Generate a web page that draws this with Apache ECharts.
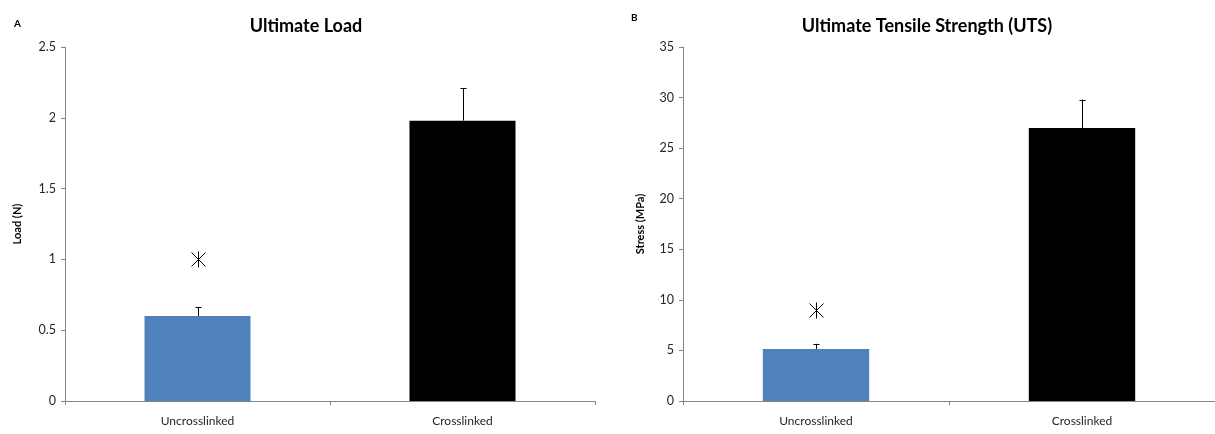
<!DOCTYPE html>
<html>
<head>
<meta charset="utf-8">
<script src="https://cdn.jsdelivr.net/npm/echarts@6/dist/echarts.min.js"></script>
<style>
  html, body { margin: 0; padding: 0; background: #fff; }
  #chart { width: 1215px; height: 434px; }
</style>
</head>
<body>
<div id="chart"></div>
<script>
// Mechanical testing results: uncrosslinked vs crosslinked samples
const categories = ['Uncrosslinked', 'Crosslinked'];
const barColors = ['#4f81bd', '#000000'];

// Panel A: ultimate load (N)
const loadMeans = [0.6, 1.98];
const loadErrors = [0.065, 0.23];
const loadSignificance = [1.0, null];
const loadTicks = { min: 0, max: 2.5, interval: 0.5 };

// Panel B: ultimate tensile strength (MPa)
const stressMeans = [5.15, 27.0];
const stressErrors = [0.5, 2.8];
const stressSignificance = [9.0, null];
const stressTicks = { min: 0, max: 35, interval: 5 };

const FONT = 'Lato, "Noto Sans", sans-serif';
const AXIS_GRAY = '#868686';
const TEXT = '#262626';

const chart = echarts.init(document.getElementById('chart'), null, { renderer: 'canvas' });

function xAxisFor(gridIndex) {
  return {
    type: 'category', gridIndex, data: categories,
    axisLine: { lineStyle: { color: AXIS_GRAY, width: 1 } },
    axisTick: { show: true, interval: 0, length: 4, lineStyle: { color: AXIS_GRAY } },
    axisLabel: { color: TEXT, fontSize: 12, fontFamily: FONT, margin: 14 }
  };
}

function yAxisFor(gridIndex, ticks, name, nameGap) {
  return {
    type: 'value', gridIndex, min: ticks.min, max: ticks.max, interval: ticks.interval,
    name, nameLocation: 'middle', nameGap,
    nameTextStyle: { color: '#000', fontSize: 11, fontWeight: 'bold', fontFamily: FONT },
    axisLine: { show: true, lineStyle: { color: AXIS_GRAY, width: 1 } },
    axisTick: { show: true, length: 4, lineStyle: { color: AXIS_GRAY } },
    axisLabel: { color: TEXT, fontSize: 12.5, fontFamily: FONT, margin: 9 },
    splitLine: { show: false }
  };
}

function barSeries(idx, means) {
  return {
    type: 'bar', xAxisIndex: idx, yAxisIndex: idx, barWidth: '40%',
    data: means.map((v, i) => ({ value: v, itemStyle: { color: barColors[i] } })),
    silent: true, z: 2
  };
}

// Upper error whisker with a small cap
function errorSeries(idx, means, errs) {
  return {
    type: 'custom', xAxisIndex: idx, yAxisIndex: idx, z: 3, silent: true,
    data: means.map((m, i) => [i, m, m + errs[i]]),
    renderItem(params, api) {
      const base = api.coord([api.value(0), api.value(1)]);
      const top = api.coord([api.value(0), api.value(2)]);
      const x = Math.round(base[0]) + 0.5;
      const style = { stroke: '#000', lineWidth: 1 };
      return {
        type: 'group',
        children: [
          { type: 'line', shape: { x1: x, y1: base[1], x2: x, y2: top[1] }, style },
          { type: 'line', shape: { x1: x - 3, y1: Math.round(top[1]) + 0.5, x2: x + 3, y2: Math.round(top[1]) + 0.5 }, style }
        ]
      };
    }
  };
}

// Asterisk marking the significant difference
function starSeries(idx, marks) {
  return {
    type: 'custom', xAxisIndex: idx, yAxisIndex: idx, z: 3, silent: true,
    data: marks.map((v, i) => [i, v]).filter(d => d[1] !== null),
    renderItem(params, api) {
      const c = api.coord([api.value(0), api.value(1)]);
      const x = Math.round(c[0]) + 0.5, y = Math.round(c[1]) + 0.5;
      const r = 7;
      const style = { stroke: '#000', lineWidth: 1 };
      return {
        type: 'group',
        children: [
          { type: 'line', shape: { x1: x - r, y1: y - r, x2: x + r, y2: y + r }, style },
          { type: 'line', shape: { x1: x - r, y1: y + r, x2: x + r, y2: y - r }, style },
          { type: 'line', shape: { x1: x, y1: y - r - 1, x2: x, y2: y + r + 1 }, style }
        ]
      };
    }
  };
}

chart.setOption({
  animation: false,
  backgroundColor: '#fff',
  title: [
    { text: 'Ultimate Load', left: 301, top: 12, textAlign: 'center',
      textStyle: { fontSize: 18, fontWeight: 'bold', color: '#000', fontFamily: FONT } },
    { text: 'Ultimate Tensile Strength (UTS)', left: 922, top: 12, textAlign: 'center',
      textStyle: { fontSize: 18, fontWeight: 'bold', color: '#000', fontFamily: FONT } },
    { text: 'A', left: 9, top: 14,
      textStyle: { fontSize: 10, fontWeight: 'bold', color: '#000', fontFamily: FONT } },
    { text: 'B', left: 626, top: 8,
      textStyle: { fontSize: 10, fontWeight: 'bold', color: '#000', fontFamily: FONT } }
  ],
  grid: [
    { left: 65, width: 530, top: 47, height: 354 },
    { left: 683, width: 534, top: 47, height: 354 }
  ],
  xAxis: [xAxisFor(0), xAxisFor(1)],
  yAxis: [
    yAxisFor(0, loadTicks, 'Load (N)', 42),
    yAxisFor(1, stressTicks, 'Stress (MPa)', 37)
  ],
  series: [
    barSeries(0, loadMeans),
    errorSeries(0, loadMeans, loadErrors),
    starSeries(0, loadSignificance),
    barSeries(1, stressMeans),
    errorSeries(1, stressMeans, stressErrors),
    starSeries(1, stressSignificance)
  ]
});
</script>
</body>
</html>
